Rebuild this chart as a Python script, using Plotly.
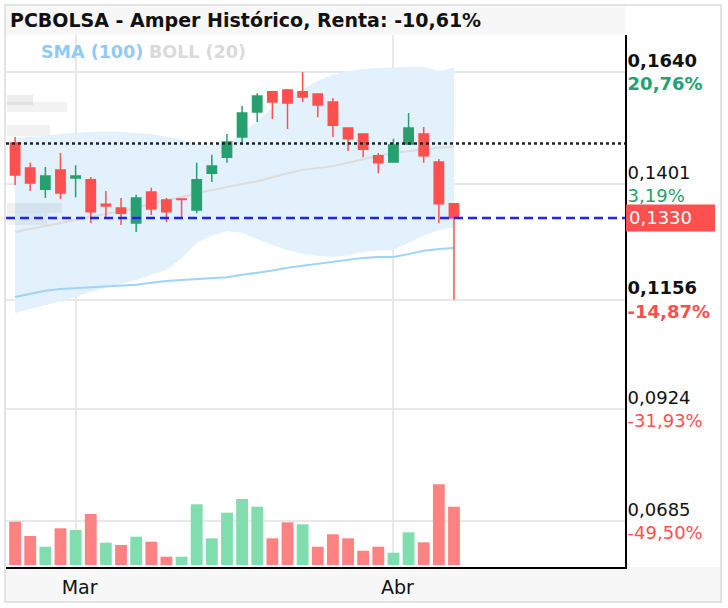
import plotly.graph_objects as go

# ---------------- data ----------------
dates = ["2019-02-25", "2019-02-26", "2019-02-27", "2019-02-28",
         "2019-03-01", "2019-03-04", "2019-03-05", "2019-03-06", "2019-03-07", "2019-03-08",
         "2019-03-11", "2019-03-12", "2019-03-13", "2019-03-14", "2019-03-15",
         "2019-03-18", "2019-03-19", "2019-03-20", "2019-03-21", "2019-03-22",
         "2019-03-25", "2019-03-26", "2019-03-27", "2019-03-28", "2019-03-29",
         "2019-04-01", "2019-04-02", "2019-04-03", "2019-04-04", "2019-04-05"]
opens = [0.1489, 0.1436, 0.1391, 0.1432, 0.1415, 0.1411, 0.1359, 0.1351, 0.1319, 0.1385,
         0.1368, 0.1370, 0.1347, 0.1425, 0.1459, 0.1502, 0.1555, 0.1598, 0.1602, 0.1598,
         0.1593, 0.1576, 0.1521, 0.1508, 0.1462, 0.1449, 0.1487, 0.1508, 0.1449, 0.1360]
highs = [0.1502, 0.1447, 0.1438, 0.1468, 0.1442, 0.1417, 0.1387, 0.1372, 0.1379, 0.1394,
         0.1372, 0.1371, 0.1447, 0.1464, 0.1508, 0.1568, 0.1595, 0.1600, 0.1604, 0.1640,
         0.1595, 0.1585, 0.1522, 0.1509, 0.1468, 0.1498, 0.1553, 0.1523, 0.1455, 0.1361]
lows = [0.1400, 0.1387, 0.1372, 0.1370, 0.1374, 0.1319, 0.1332, 0.1315, 0.1300, 0.1336,
        0.1321, 0.1330, 0.1340, 0.1406, 0.1447, 0.1485, 0.1534, 0.1540, 0.1519, 0.1576,
        0.1544, 0.1502, 0.1472, 0.1459, 0.1425, 0.1448, 0.1485, 0.1447, 0.1319, 0.1156]
closes = [0.1421, 0.1404, 0.1419, 0.1383, 0.1419, 0.1343, 0.1355, 0.1340, 0.1372, 0.1349,
          0.1343, 0.1369, 0.1411, 0.1440, 0.1491, 0.1553, 0.1589, 0.1576, 0.1574, 0.1587,
          0.1570, 0.1527, 0.1498, 0.1476, 0.1447, 0.1485, 0.1521, 0.1462, 0.1360, 0.1330]
volume_m = [4.33, 2.90, 1.83, 3.67, 3.50, 5.10, 2.23, 2.00, 2.83, 2.33,
            0.83, 0.83, 6.07, 2.67, 5.23, 6.60, 5.83, 2.67, 4.27, 4.07,
            1.83, 3.07, 2.67, 1.43, 1.83, 1.23, 3.27, 2.27, 8.07, 5.83]
sma100 = [0.1162, 0.1168, 0.1175, 0.1179, 0.1181, 0.1183, 0.1185, 0.1187, 0.1188, 0.1192,
          0.1196, 0.1198, 0.1200, 0.1202, 0.1204, 0.1209, 0.1213, 0.1218, 0.1224, 0.1228,
          0.1232, 0.1236, 0.1241, 0.1245, 0.1247, 0.1247, 0.1253, 0.1260, 0.1264, 0.1266]
boll_upper = [0.1500, 0.1502, 0.1504, 0.1508, 0.1510, 0.1513, 0.1513, 0.1513, 0.1510, 0.1508,
              0.1502, 0.1496, 0.1487, 0.1485, 0.1489, 0.1508, 0.1536, 0.1564, 0.1587, 0.1604,
              0.1621, 0.1634, 0.1642, 0.1646, 0.1649, 0.1649, 0.1651, 0.1651, 0.1642, 0.1649]
boll_mid = [0.1300, 0.1306, 0.1313, 0.1319, 0.1326, 0.1332, 0.1338, 0.1345, 0.1351, 0.1360,
            0.1368, 0.1374, 0.1383, 0.1389, 0.1396, 0.1402, 0.1408, 0.1417, 0.1425, 0.1432,
            0.1436, 0.1440, 0.1447, 0.1455, 0.1462, 0.1468, 0.1472, 0.1476, 0.1479, 0.1481]
boll_lower = [0.1128, 0.1136, 0.1145, 0.1153, 0.1162, 0.1173, 0.1181, 0.1190, 0.1198, 0.1209,
              0.1219, 0.1245, 0.1277, 0.1292, 0.1302, 0.1298, 0.1285, 0.1272, 0.1262, 0.1253,
              0.1249, 0.1247, 0.1251, 0.1258, 0.1260, 0.1262, 0.1277, 0.1292, 0.1304, 0.1309]

ref_price = 0.1488
last_price = 0.1330
last_label = "0,1330"
tick_vals = [0.1640, 0.1401, 0.1156, 0.0924, 0.0685]
tick_prices = ["0,1640", "0,1401", "0,1156", "0,0924", "0,0685"]
tick_pcts = ["20,76%", "3,19%", "-14,87%", "-31,93%", "-49,50%"]
tick_bold = [True, False, True, False, False]
month_ticks = ["2019-03-01", "2019-04-01"]
month_labels = ["Mar", "Abr"]
title_text = "PCBOLSA - Amper Histórico, Renta: -10,61%"

# ---------------- style ----------------
GREEN = "#26a06e"
RED = "#ff4f4f"
VOL_GREEN = "#80deae"
VOL_RED = "#ff8282"
FONT = "DejaVu Sans"
W, H = 728, 608
ML, MR, MT, MB = 6, 103, 35, 41
PW, PH = W - ML - MR, H - MT - MB


def px_x(p):
    return (p - ML) / PW


def px_y(p):
    return (H - MB - p) / PH


vol_colors = []
for i, c in enumerate(closes):
    prev = closes[i - 1] if i > 0 else opens[0]
    vol_colors.append(VOL_GREEN if c >= prev else VOL_RED)

fig = go.Figure()

# Bollinger band fill (base y axis, drawn first)
fig.add_trace(go.Scatter(x=dates, y=boll_upper, mode="lines", line=dict(width=0, color="rgba(0,0,0,0)"),
                         hoverinfo="skip", showlegend=False))
fig.add_trace(go.Scatter(x=dates, y=boll_lower, mode="lines", line=dict(width=0, color="rgba(0,0,0,0)"),
                         fill="tonexty", fillcolor="#e2f1fc", hoverinfo="skip", showlegend=False))
fig.add_trace(go.Scatter(x=dates, y=boll_mid, mode="lines", line=dict(width=2, color="#dcdcdc"),
                         hoverinfo="skip", showlegend=False))
fig.add_trace(go.Scatter(x=dates, y=sma100, mode="lines", line=dict(width=2, color="#9fd3f7"),
                         hoverinfo="skip", showlegend=False))

# volume (overlay axis y2)
fig.add_trace(go.Bar(x=dates, y=volume_m, yaxis="y2", marker=dict(color=vol_colors, line=dict(width=0)),
                     width=0.78, showlegend=False, hoverinfo="skip"))

# candles (overlay axis y3, same scale as y, drawn on top)
fig.add_trace(go.Candlestick(x=dates, open=opens, high=highs, low=lows, close=closes, yaxis="y3",
                             increasing=dict(line=dict(color=GREEN, width=1.5), fillcolor=GREEN),
                             decreasing=dict(line=dict(color=RED, width=1.5), fillcolor=RED),
                             whiskerwidth=0, showlegend=False))

ticktext = []
for p, pc, b in zip(tick_prices, tick_pcts, tick_bold):
    col = RED if pc.startswith("-") else GREEN
    if b:
        ticktext.append(f"<b>{p}</b><br><span style='color:{col}'><b>{pc}</b></span>")
    else:
        ticktext.append(f"{p}<br><span style='color:{col}'>{pc}</span>")

y_top = 0.1640 + 37 * 0.0002125
y_bot = 0.1640 - 495 * 0.0002125

shapes = [
    dict(type="rect", xref="paper", yref="paper", x0=px_x(5), x1=px_x(625), y0=px_y(35), y1=px_y(5),
         fillcolor="#f7f7f7", line=dict(width=0), layer="below"),
    dict(type="rect", xref="paper", yref="paper", x0=px_x(5), x1=px_x(721), y0=px_y(602), y1=px_y(567),
         fillcolor="#f7f7f7", line=dict(width=0), layer="below"),
    dict(type="rect", xref="paper", yref="paper", x0=px_x(5), x1=px_x(721), y0=px_y(602), y1=px_y(5),
         fillcolor="rgba(0,0,0,0)", line=dict(width=2, color="#e3e3e3"), layer="below"),
    dict(type="rect", xref="paper", yref="paper", x0=px_x(7), x1=px_x(33), y0=px_y(105), y1=px_y(95),
         fillcolor="rgba(0,0,0,0.07)", line=dict(width=0), layer="above"),
    dict(type="rect", xref="paper", yref="paper", x0=px_x(7), x1=px_x(67), y0=px_y(112), y1=px_y(102),
         fillcolor="rgba(0,0,0,0.05)", line=dict(width=0), layer="above"),
    dict(type="rect", xref="paper", yref="paper", x0=px_x(7), x1=px_x(50), y0=px_y(136), y1=px_y(125),
         fillcolor="rgba(0,0,0,0.055)", line=dict(width=0), layer="above"),
    dict(type="rect", xref="paper", yref="paper", x0=px_x(7), x1=px_x(62), y0=px_y(213), y1=px_y(203),
         fillcolor="rgba(0,0,0,0.06)", line=dict(width=0), layer="above"),
    dict(type="rect", xref="paper", yref="paper", x0=px_x(7), x1=px_x(47), y0=px_y(225), y1=px_y(213),
         fillcolor="rgba(0,0,0,0.045)", line=dict(width=0), layer="above"),
    dict(type="line", xref="paper", yref="y", x0=0, x1=1, y0=ref_price, y1=ref_price,
         line=dict(color="#222222", width=2.5, dash="dot"), layer="above"),
    dict(type="line", xref="paper", yref="y", x0=0, x1=1, y0=last_price, y1=last_price,
         line=dict(color="#2222ff", width=2.5, dash="9px,5px"), layer="above"),
    dict(type="rect", xref="paper", yref="y", x0=px_x(626), x1=px_x(715),
         y0=last_price - 13.5 * 0.0002125, y1=last_price + 13.5 * 0.0002125,
         fillcolor=RED, line=dict(width=0), layer="above"),
]

annotations = [
    dict(text=f"<b>{title_text}</b>", xref="paper", yref="paper", x=px_x(8), y=px_y(20),
         xanchor="left", yanchor="middle", showarrow=False, font=dict(family=FONT, size=19, color="#111111")),
    dict(text="<b>SMA (100)</b>", xref="paper", yref="paper", x=px_x(39), y=px_y(52),
         xanchor="left", yanchor="middle", showarrow=False, font=dict(family=FONT, size=17.5, color="#90caf9")),
    dict(text="<b>BOLL (20)</b>", xref="paper", yref="paper", x=px_x(147), y=px_y(52),
         xanchor="left", yanchor="middle", showarrow=False, font=dict(family=FONT, size=17.5, color="#dadada")),
    dict(text=last_label, xref="paper", yref="y", x=px_x(627), y=last_price,
         xanchor="left", yanchor="middle", showarrow=False, font=dict(family=FONT, size=18, color="white")),
]

fig.update_layout(
    width=W, height=H,
    margin=dict(l=ML, r=MR, t=MT, b=MB, pad=0),
    paper_bgcolor="white", plot_bgcolor="rgba(0,0,0,0)",
    showlegend=False,
    boxgap=0.12,
    xaxis=dict(type="category", range=[-0.6, 40.3], tickvals=month_ticks, ticktext=month_labels,
               showgrid=True, gridcolor="#e8e8e8", gridwidth=2, showline=True, linecolor="black",
               linewidth=2, ticks="", tickfont=dict(family=FONT, size=19, color="#111111"),
               rangeslider=dict(visible=False), fixedrange=True, zeroline=False,
               ticklabelstandoff=2, ticklabelshift=4),
    yaxis=dict(side="right", range=[y_bot, y_top], tickvals=tick_vals, ticktext=ticktext,
               showgrid=True, gridcolor="#e8e8e8", gridwidth=2, showline=True, linecolor="black",
               linewidth=2, ticks="", tickfont=dict(family=FONT, size=18, color="#111111"),
               zeroline=False, fixedrange=True, ticklabelstandoff=-3),
    yaxis2=dict(overlaying="y", range=[-0.2, 53], visible=False, fixedrange=True),
    yaxis3=dict(overlaying="y", range=[y_bot, y_top], visible=False, fixedrange=True),
    shapes=shapes,
    annotations=annotations,
    bargap=0.2,
)

fig.write_html("out.html")
